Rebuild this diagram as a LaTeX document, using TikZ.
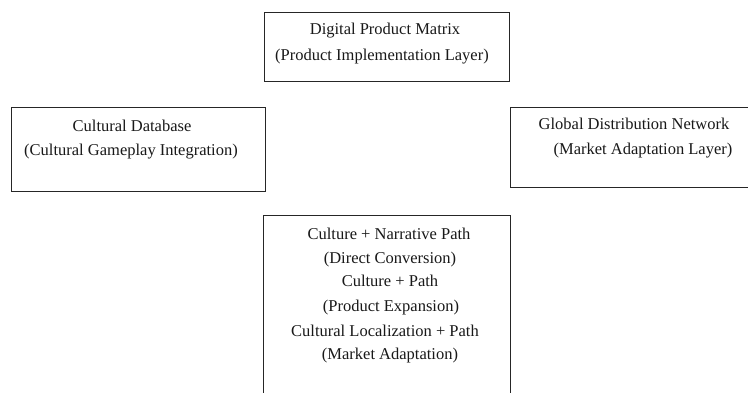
\documentclass[tikz,border=0pt]{standalone}
\usepackage{fontspec}
\setmainfont{Liberation Serif}
\begin{document}
\begin{tikzpicture}[x=1pt,y=-1pt,
  box/.style={draw=black!85, line width=1pt, fill=white, inner sep=0pt},
  txt/.style={anchor=base, inner sep=0pt, font=\fontsize{16.5}{20}\selectfont, text=black!90}]
\clip (0,0) rectangle (748,392);
\fill[white] (0,0) rectangle (748,392);

% boxes
\node[box, minimum width=245pt, minimum height=69pt]  (matrix)  at (386.5,46.5) {};
\node[box, minimum width=254pt, minimum height=84pt]  (culture) at (138,149) {};
\node[box, minimum width=250pt, minimum height=80pt]  (global)  at (635,147) {};
\node[box, minimum width=247pt, minimum height=194pt] (paths)   at (386.5,312) {};

% Digital Product Matrix
\node[txt] (m1) at (385,34.5) {Digital Product Matrix};
\node[txt] (m2) at (382,60) {(Product Implementation Layer)};

% Cultural Database
\node[txt] (c1) at (132,131) {Cultural Database};
\node[txt] (c2) at (131,155) {(Cultural Gameplay Integration)};

% Global Distribution Network
\node[txt] (g1) at (634,129) {Global Distribution Network};
\node[txt] (g2) at (643,154) {(Market Adaptation Layer)};

% Conversion paths
\node[txt] (p1) at (389,239) {Culture + Narrative Path};
\node[txt] (p2) at (390,263) {(Direct Conversion)};
\node[txt] (p3) at (390,286) {Culture + Path};
\node[txt] (p4) at (391,311) {(Product Expansion)};
\node[txt] (p5) at (385,336) {Cultural Localization + Path};
\node[txt] (p6) at (390,359) {(Market Adaptation)};
\end{tikzpicture}
\end{document}
